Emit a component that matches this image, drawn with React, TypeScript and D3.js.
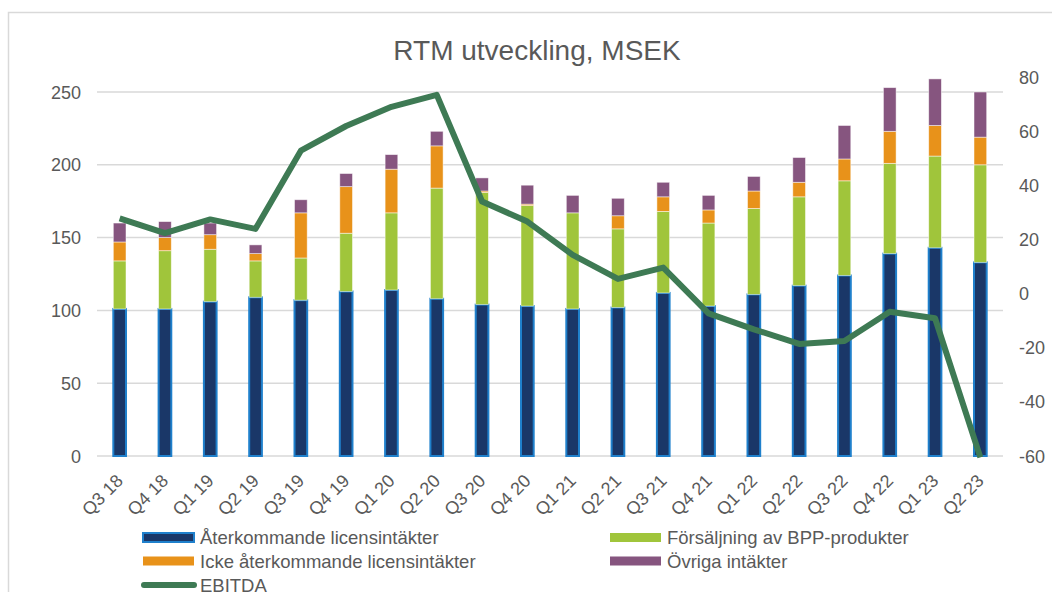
import React from "react";
import * as d3 from "d3";

const categories = ["Q3 18", "Q4 18", "Q1 19", "Q2 19", "Q3 19", "Q4 19", "Q1 20", "Q2 20", "Q3 20", "Q4 20",
  "Q1 21", "Q2 21", "Q3 21", "Q4 21", "Q1 22", "Q2 22", "Q3 22", "Q4 22", "Q1 23", "Q2 23"];
const recurring = [101, 101, 106, 109, 107, 113, 114, 108, 104, 103, 101, 102, 112, 103, 111, 117, 124, 139, 143, 133];
const bpp = [33, 40, 36, 25, 29, 40, 53, 76, 77, 69, 66, 54, 56, 57, 59, 61, 65, 62, 63, 67];
const nonRecurring = [13, 9, 10, 5, 31, 32, 30, 29, 1, 1, 0, 9, 10, 9, 12, 10, 15, 22, 21, 19];
const other = [13, 11, 8, 6, 9, 9, 10, 10, 9, 13, 12, 12, 10, 10, 10, 17, 23, 30, 32, 31];
const ebitda = [27.8, 22.3, 27.4, 23.9, 52.8, 61.9, 69, 73.4, 34, 26.6, 14.3, 5.4, 9.6, -7.3, -13.2, -18.6, -17.5, -6.7, -9.1, -60.5];
const leftTicks = [0, 50, 100, 150, 200, 250];
const rightTicks = [-60, -40, -20, 0, 20, 40, 60, 80];

const seriesKeys = ["recurring", "bpp", "nonRecurring", "other"];
const seriesColors: Record<string, string> = {
  recurring: "#1a3768",
  bpp: "#a0c53b",
  nonRecurring: "#e8921a",
  other: "#86557f",
};

const legendItems = [
  { label: "Återkommande licensintäkter", key: "recurring", col: 0, row: 0 },
  { label: "Försäljning av BPP-produkter", key: "bpp", col: 1, row: 0 },
  { label: "Icke återkommande licensintäkter", key: "nonRecurring", col: 0, row: 1 },
  { label: "Övriga intäkter", key: "other", col: 1, row: 1 },
  { label: "EBITDA", key: "ebitda", col: 0, row: 2 },
];

const FONT = "'Liberation Sans', Arial, sans-serif";
const TXT = "#595959";
const LINE = "#3e7a54";
const BLUE_EDGE = "#1f80cc";

export default function App() {
  const width = 1052;
  const height = 592;
  const left = 97, right = 1003, top = 77, bottom = 456;

  const x = d3.scaleBand<string>().domain(categories).range([left, right]).padding(0);
  const barW = x.bandwidth() * 0.28;
  const yL = d3.scaleLinear().domain([0, 250]).range([bottom, 92]);
  const yR = d3.scaleLinear().domain([-60, 80]).range([bottom, top]);

  const rows = categories.map((c, i) => ({
    cat: c,
    recurring: recurring[i],
    bpp: bpp[i],
    nonRecurring: nonRecurring[i],
    other: other[i],
  }));
  const stacked = d3.stack<any>().keys(seriesKeys)(rows);

  // EBITDA sits on the right axis
  const line = d3
    .line<number>()
    .x((_, i) => (x(categories[i]) as number) + x.bandwidth() / 2)
    .y((d) => yR(d));

  const legX = [143, 610];
  const legY = [537.5, 561, 585];

  return (
    <svg width={width} height={height} style={{ position: "absolute", left: 0, top: 0 }} fontFamily={FONT}>
      <rect x={0} y={0} width={width} height={height} fill="#fff" />
      <rect x={8.5} y={12.5} width={1100} height={700} fill="none" stroke="#d9d9d9" strokeWidth={1.5} />

      <text x={537} y={60} textAnchor="middle" fontSize={28} fill={TXT}>RTM utveckling, MSEK</text>

      {leftTicks.map((t) => (
        <g key={"l" + t}>
          <line x1={left} x2={right} y1={yL(t)} y2={yL(t)} stroke="#d9d9d9" strokeWidth={1.5} />
          <text x={81} y={yL(t) + 6.5} textAnchor="end" fontSize={18} fill={TXT}>{t}</text>
        </g>
      ))}
      {rightTicks.map((t) => (
        <text key={"r" + t} x={1019} y={yR(t) + 6.5} textAnchor="start" fontSize={18} fill={TXT}>{t}</text>
      ))}

      {stacked.map((s) => (
        <g key={s.key}>
          {s.map((d, i) => {
            const cx = (x(categories[i]) as number) + x.bandwidth() / 2;
            const h = yL(d[0]) - yL(d[1]);
            if (h <= 0) return null;
            const isBlue = s.key === "recurring";
            return (
              <rect
                key={i}
                x={cx - barW / 2}
                y={yL(d[1])}
                width={barW}
                height={h}
                fill={seriesColors[s.key]}
                stroke={isBlue ? BLUE_EDGE : "rgba(255,255,255,0.6)"}
                strokeWidth={isBlue ? 2 : 0.8}
              />
            );
          })}
        </g>
      ))}

      <path d={line(ebitda) || ""} fill="none" stroke={LINE} strokeWidth={6} strokeLinejoin="round" />

      {categories.map((c) => {
        const cx = (x(c) as number) + x.bandwidth() / 2;
        return (
          <text key={c} transform={`translate(${cx + 4.5},${482}) rotate(-45)`} textAnchor="end" fontSize={18} fill={TXT}>
            {c}
          </text>
        );
      })}

      {legendItems.map((it) => {
        const lx = legX[it.col];
        const ly = legY[it.row];
        return (
          <g key={it.key}>
            {it.key === "ebitda" ? (
              <line x1={lx + 1} x2={lx + 51} y1={ly} y2={ly} stroke={LINE} strokeWidth={6} strokeLinecap="round" />
            ) : (
              <rect
                x={lx}
                y={ly - 4.5}
                width={51}
                height={9}
                fill={seriesColors[it.key]}
                stroke={it.key === "recurring" ? BLUE_EDGE : "none"}
                strokeWidth={2}
              />
            )}
            <text x={lx + 57} y={ly + 6.5} fontSize={18.5} fill={TXT}>{it.label}</text>
          </g>
        );
      })}
    </svg>
  );
}
